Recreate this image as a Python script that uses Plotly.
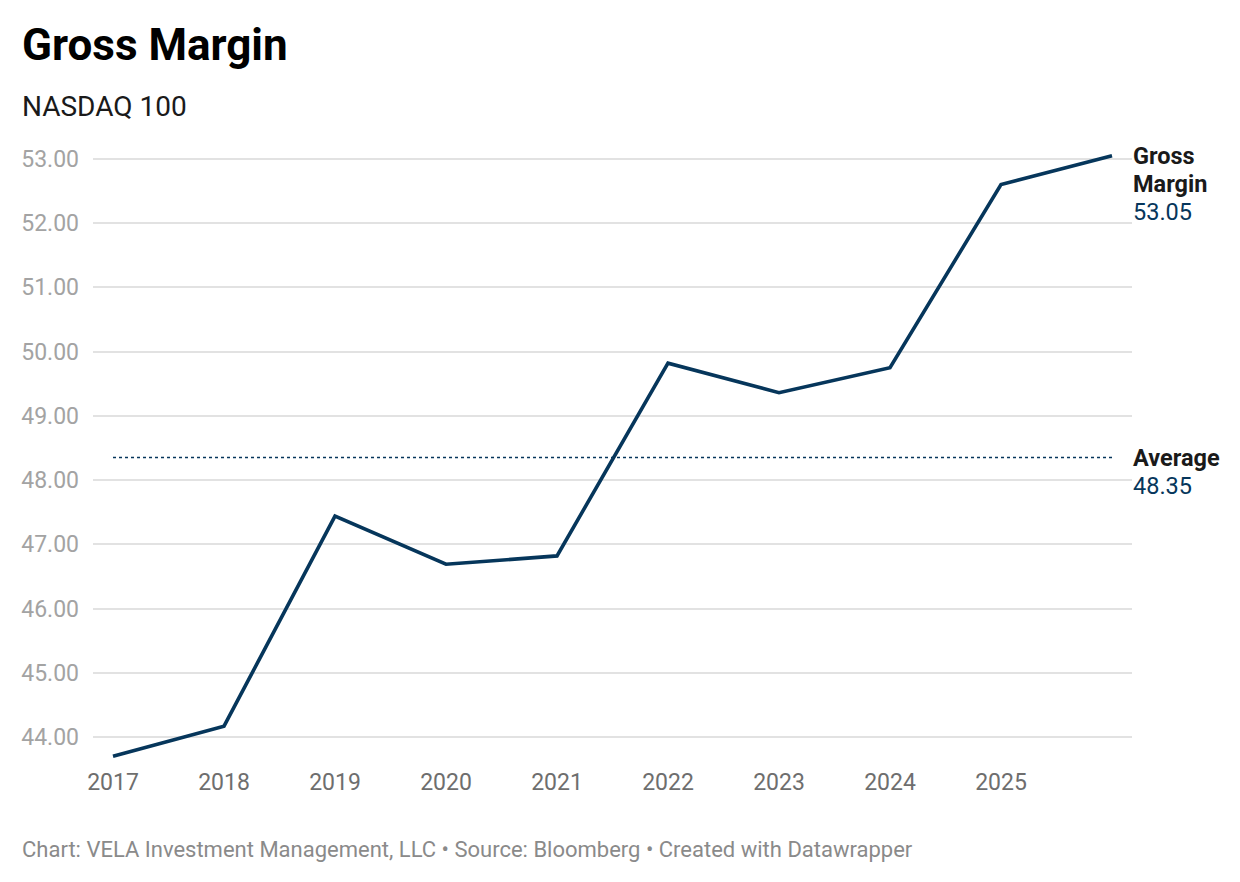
import plotly.graph_objects as go

years = [2017, 2018, 2019, 2020, 2021, 2022, 2023, 2024, 2025, 2026]
gross_margin = [43.70, 44.17, 47.44, 46.69, 46.82, 49.82, 49.36, 49.75, 52.60, 53.05]
average_value = 48.35
x_tick_vals = [2017, 2018, 2019, 2020, 2021, 2022, 2023, 2024, 2025]
x_tick_text = ["2017", "2018", "2019", "2020", "2021", "2022", "2023", "2024", "2025"]
y_tick_vals = [44, 45, 46, 47, 48, 49, 50, 51, 52, 53]

title_text = "Gross Margin"
subtitle_text = "NASDAQ 100"
footer_text = "Chart: VELA Investment Management, LLC • Source: Bloomberg • Created with Datawrapper"
series_label = ["Gross", "Margin"]
avg_label = "Average"

# page has an 8px body margin; build figure in page pixel terms
OFF = 8
W, H = 1240 - OFF, 882 - 2 * OFF
PL, PR, PT, PB = 93, 1132, 146, 766  # plot area in page pixels
ML = PL - OFF
MR = (W + OFF) - PR
MT = PT - OFF
MB = (H + OFF) - PB
PW = PR - PL
PH = PB - PT

LINE = "#06365b"
FONT = "Roboto"

def px_x(px):
    return (px - PL) / PW

def px_y(py):
    return (PB - py) / PH

fig = go.Figure()
fig.add_trace(go.Scatter(
    x=[years[0], years[-1]], y=[average_value, average_value], mode="lines",
    line=dict(color=LINE, width=1.5, dash="dot"), hoverinfo="skip", showlegend=False))
fig.add_trace(go.Scatter(
    x=years, y=gross_margin, mode="lines",
    line=dict(color=LINE, width=3.6), showlegend=False))

ann = []
ann.append(dict(text="<b>" + title_text + "</b>", xref="paper", yref="paper",
                x=px_x(20), y=px_y(73), xanchor="left", yanchor="bottom",
                showarrow=False, font=dict(family=FONT, size=44, color="#000000")))
ann.append(dict(text=subtitle_text, xref="paper", yref="paper",
                x=px_x(20), y=px_y(125), xanchor="left", yanchor="bottom",
                showarrow=False, font=dict(family=FONT, size=28, color="#1a1a1a")))
ann.append(dict(text=footer_text, xref="paper", yref="paper",
                x=px_x(20), y=px_y(864), xanchor="left", yanchor="bottom",
                showarrow=False, font=dict(family=FONT, size=22, color="#8a8a8a")))

# end labels
last_val = gross_margin[-1]
lines = ["<b>" + series_label[0] + "</b>", "<b>" + series_label[1] + "</b>",
         f"<span style='color:{LINE}'>{last_val:.2f}</span>"]
for i, t in enumerate(lines):
    ann.append(dict(text=t, xref="paper", yref="y", x=1.0, y=last_val,
                    xanchor="left", yanchor="middle", yshift=-28 * i, xshift=-1,
                    showarrow=False, font=dict(family=FONT, size=23.5, color="#1a1a1a")))
lines2 = ["<b>" + avg_label + "</b>", f"<span style='color:{LINE}'>{average_value:.2f}</span>"]
for i, t in enumerate(lines2):
    ann.append(dict(text=t, xref="paper", yref="y", x=1.0, y=average_value,
                    xanchor="left", yanchor="middle", yshift=-28 * i, xshift=-1,
                    showarrow=False, font=dict(family=FONT, size=23.5, color="#1a1a1a")))

fig.update_layout(
    width=W, height=H,
    margin=dict(l=ML, r=MR, t=MT, b=MB, autoexpand=False),
    paper_bgcolor="white", plot_bgcolor="white",
    font=dict(family=FONT),
    annotations=ann,
    hovermode=False,
)
fig.update_xaxes(
    range=[2017 - 20 / 111, 2026 + 20 / 111],
    tickvals=x_tick_vals, ticktext=x_tick_text,
    showgrid=False, zeroline=False, showline=False, ticks="",
    tickfont=dict(family=FONT, size=23, color="#6e6e6e"),
    ticklabelstandoff=0,
    fixedrange=True,
)
fig.update_yaxes(
    range=[43.55, 53.2],
    tickvals=y_tick_vals, tickformat=".2f",
    showgrid=True, gridcolor="#e2e2e2", gridwidth=1.5,
    zeroline=False, showline=False, ticks="",
    tickfont=dict(family=FONT, size=23, color="#a3a3a3"),
    ticklabelstandoff=13,
    fixedrange=True,
)

fig.write_html("out.html")
